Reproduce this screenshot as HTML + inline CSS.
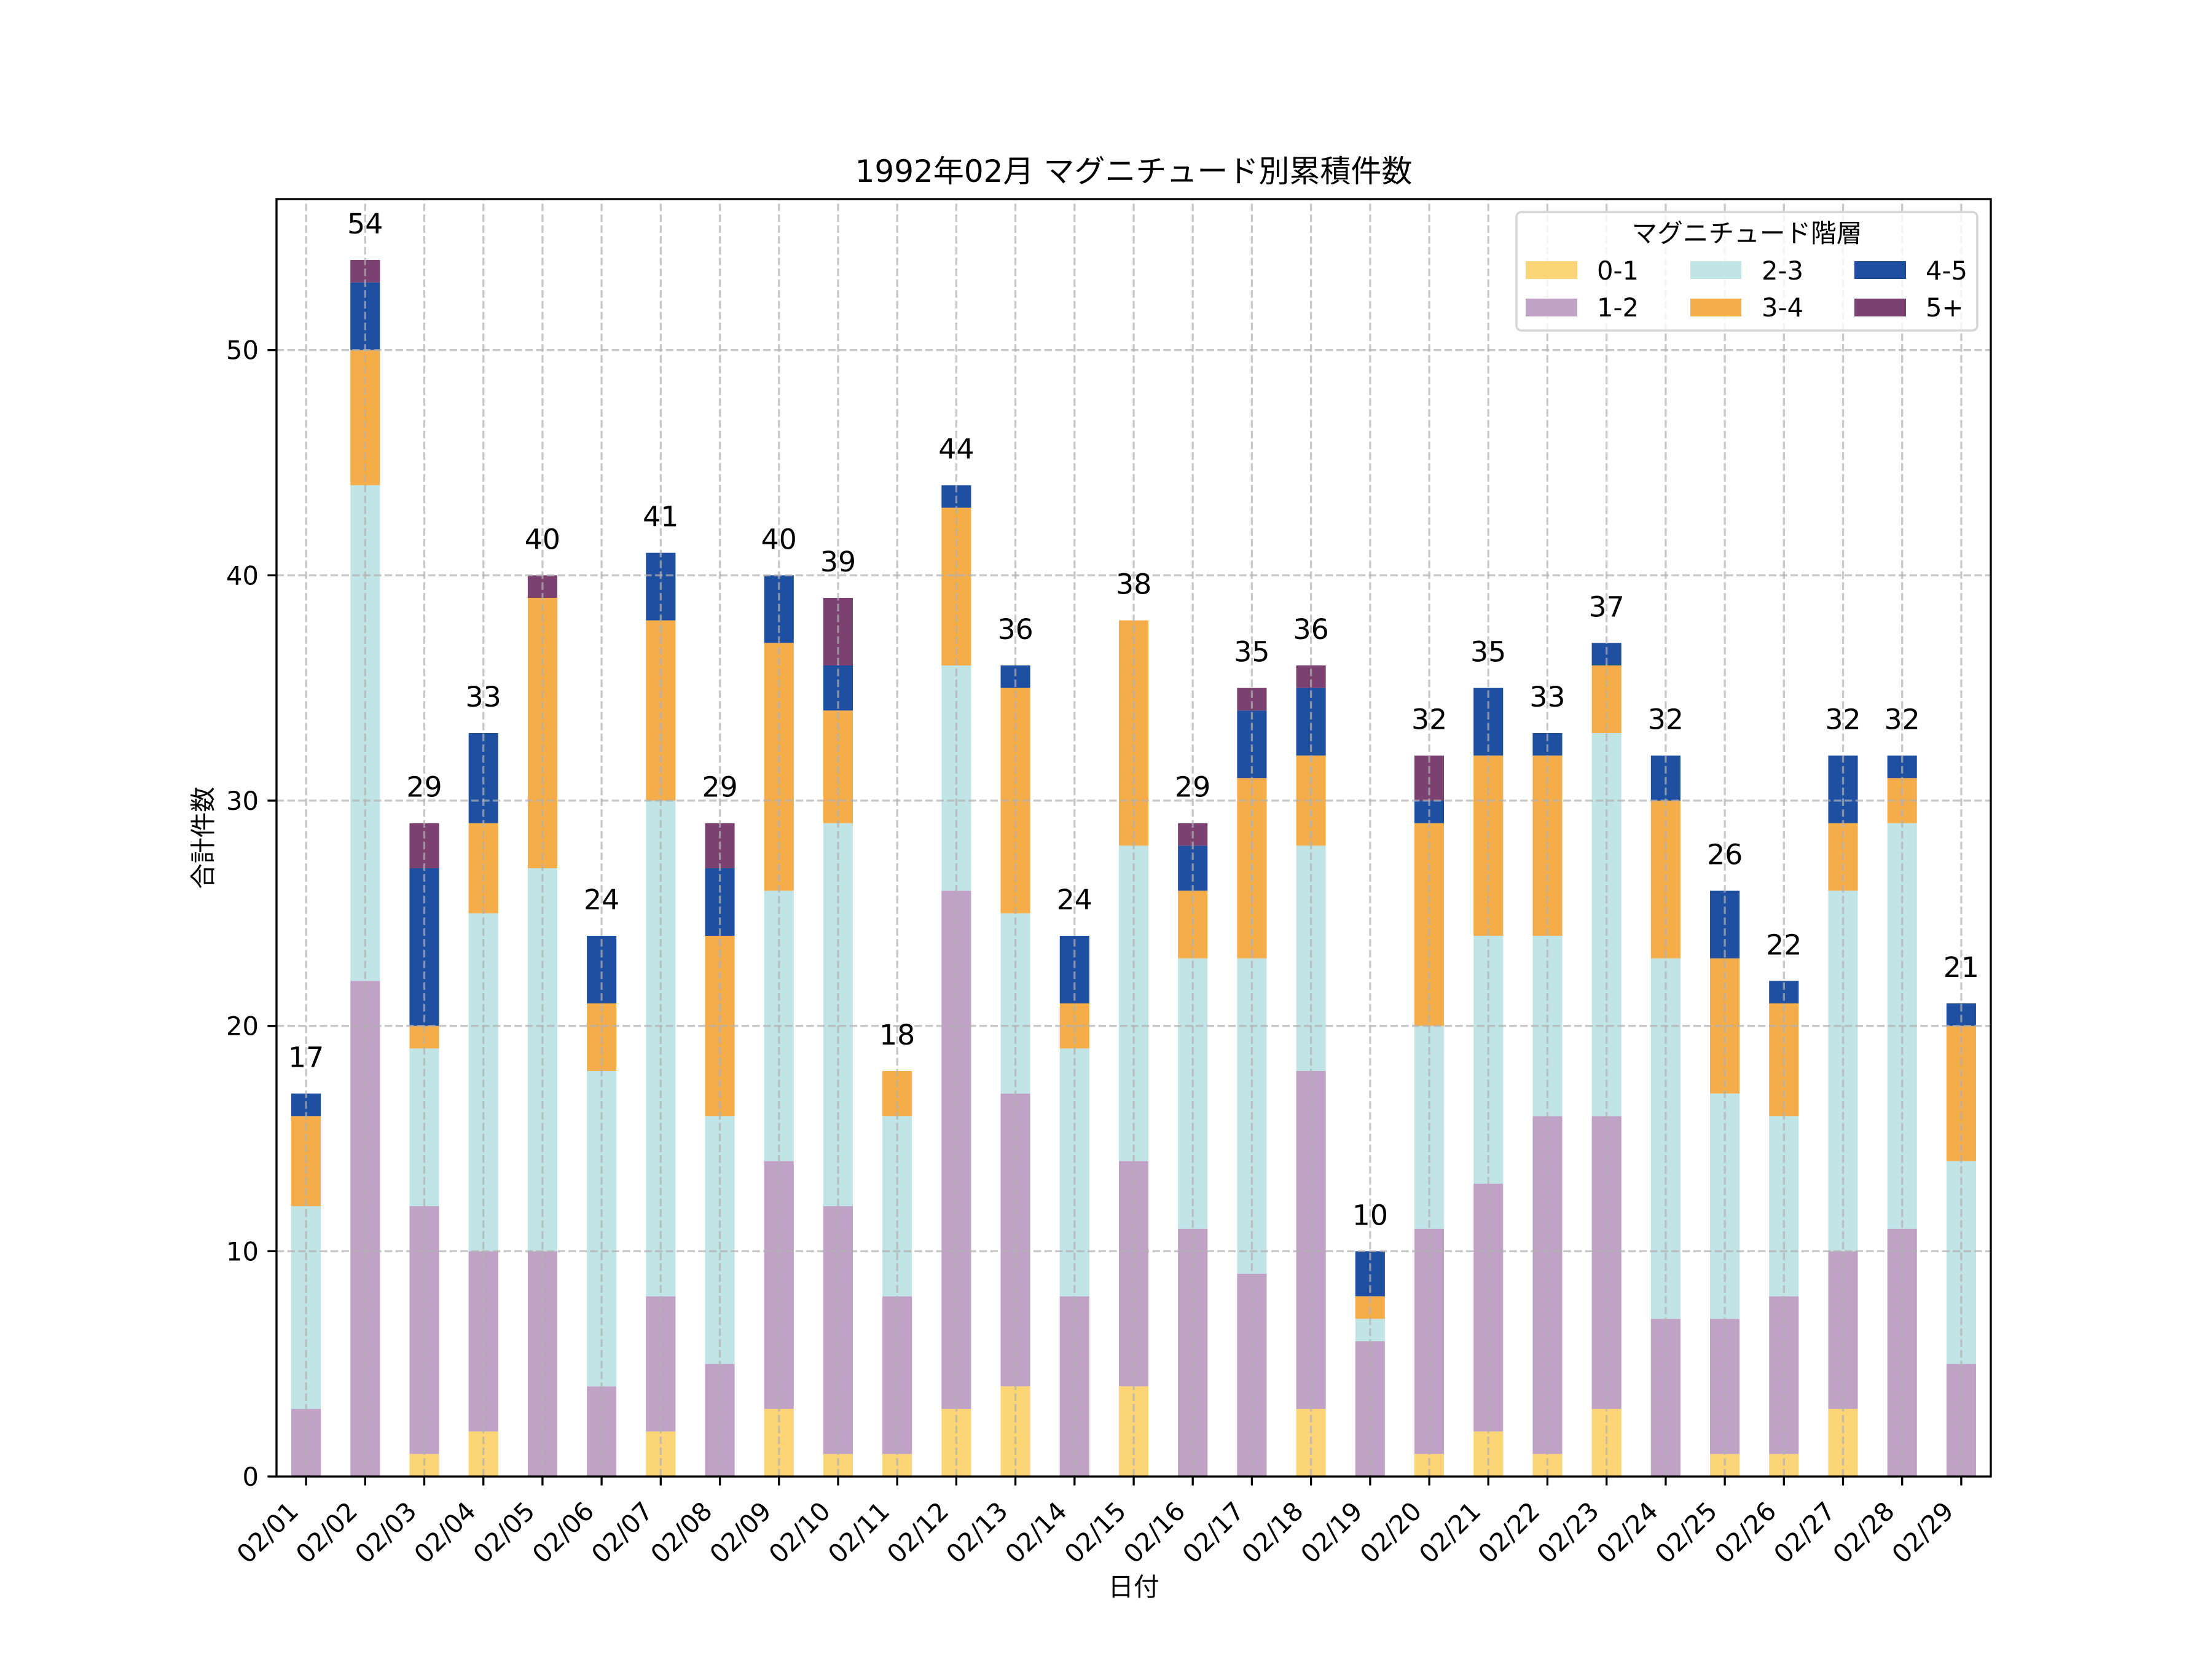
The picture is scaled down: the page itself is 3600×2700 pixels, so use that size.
<!DOCTYPE html>
<html><head><meta charset="utf-8"><style>
html,body{margin:0;padding:0;background:#fff;}
svg{display:block;}
text{font-family:"DejaVu Sans","Noto Sans CJK JP",sans-serif;fill:#000;}
</style></head><body>
<svg width="3600" height="2700" viewBox="0 0 3600 2700" xmlns="http://www.w3.org/2000/svg">
<rect x="0" y="0" width="3600" height="2700" fill="#fff"/>
<!-- bars in data coordinates -->
<g transform="translate(498.103,2403) scale(96.2069,-36.6667)">
<g fill="#FCD576">
<rect x="1.75" y="0" width="0.5" height="1"/>
<rect x="2.75" y="0" width="0.5" height="2"/>
<rect x="5.75" y="0" width="0.5" height="2"/>
<rect x="7.75" y="0" width="0.5" height="3"/>
<rect x="8.75" y="0" width="0.5" height="1"/>
<rect x="9.75" y="0" width="0.5" height="1"/>
<rect x="10.75" y="0" width="0.5" height="3"/>
<rect x="11.75" y="0" width="0.5" height="4"/>
<rect x="13.75" y="0" width="0.5" height="4"/>
<rect x="16.75" y="0" width="0.5" height="3"/>
<rect x="18.75" y="0" width="0.5" height="1"/>
<rect x="19.75" y="0" width="0.5" height="2"/>
<rect x="20.75" y="0" width="0.5" height="1"/>
<rect x="21.75" y="0" width="0.5" height="3"/>
<rect x="23.75" y="0" width="0.5" height="1"/>
<rect x="24.75" y="0" width="0.5" height="1"/>
<rect x="25.75" y="0" width="0.5" height="3"/>
</g>
<g fill="#C0A2C7">
<rect x="-0.25" y="0" width="0.5" height="3"/>
<rect x="0.75" y="0" width="0.5" height="22"/>
<rect x="1.75" y="1" width="0.5" height="11"/>
<rect x="2.75" y="2" width="0.5" height="8"/>
<rect x="3.75" y="0" width="0.5" height="10"/>
<rect x="4.75" y="0" width="0.5" height="4"/>
<rect x="5.75" y="2" width="0.5" height="6"/>
<rect x="6.75" y="0" width="0.5" height="5"/>
<rect x="7.75" y="3" width="0.5" height="11"/>
<rect x="8.75" y="1" width="0.5" height="11"/>
<rect x="9.75" y="1" width="0.5" height="7"/>
<rect x="10.75" y="3" width="0.5" height="23"/>
<rect x="11.75" y="4" width="0.5" height="13"/>
<rect x="12.75" y="0" width="0.5" height="8"/>
<rect x="13.75" y="4" width="0.5" height="10"/>
<rect x="14.75" y="0" width="0.5" height="11"/>
<rect x="15.75" y="0" width="0.5" height="9"/>
<rect x="16.75" y="3" width="0.5" height="15"/>
<rect x="17.75" y="0" width="0.5" height="6"/>
<rect x="18.75" y="1" width="0.5" height="10"/>
<rect x="19.75" y="2" width="0.5" height="11"/>
<rect x="20.75" y="1" width="0.5" height="15"/>
<rect x="21.75" y="3" width="0.5" height="13"/>
<rect x="22.75" y="0" width="0.5" height="7"/>
<rect x="23.75" y="1" width="0.5" height="6"/>
<rect x="24.75" y="1" width="0.5" height="7"/>
<rect x="25.75" y="3" width="0.5" height="7"/>
<rect x="26.75" y="0" width="0.5" height="11"/>
<rect x="27.75" y="0" width="0.5" height="5"/>
</g>
<g fill="#C1E4E7">
<rect x="-0.25" y="3" width="0.5" height="9"/>
<rect x="0.75" y="22" width="0.5" height="22"/>
<rect x="1.75" y="12" width="0.5" height="7"/>
<rect x="2.75" y="10" width="0.5" height="15"/>
<rect x="3.75" y="10" width="0.5" height="17"/>
<rect x="4.75" y="4" width="0.5" height="14"/>
<rect x="5.75" y="8" width="0.5" height="22"/>
<rect x="6.75" y="5" width="0.5" height="11"/>
<rect x="7.75" y="14" width="0.5" height="12"/>
<rect x="8.75" y="12" width="0.5" height="17"/>
<rect x="9.75" y="8" width="0.5" height="8"/>
<rect x="10.75" y="26" width="0.5" height="10"/>
<rect x="11.75" y="17" width="0.5" height="8"/>
<rect x="12.75" y="8" width="0.5" height="11"/>
<rect x="13.75" y="14" width="0.5" height="14"/>
<rect x="14.75" y="11" width="0.5" height="12"/>
<rect x="15.75" y="9" width="0.5" height="14"/>
<rect x="16.75" y="18" width="0.5" height="10"/>
<rect x="17.75" y="6" width="0.5" height="1"/>
<rect x="18.75" y="11" width="0.5" height="9"/>
<rect x="19.75" y="13" width="0.5" height="11"/>
<rect x="20.75" y="16" width="0.5" height="8"/>
<rect x="21.75" y="16" width="0.5" height="17"/>
<rect x="22.75" y="7" width="0.5" height="16"/>
<rect x="23.75" y="7" width="0.5" height="10"/>
<rect x="24.75" y="8" width="0.5" height="8"/>
<rect x="25.75" y="10" width="0.5" height="16"/>
<rect x="26.75" y="11" width="0.5" height="18"/>
<rect x="27.75" y="5" width="0.5" height="9"/>
</g>
<g fill="#F5AD4A">
<rect x="-0.25" y="12" width="0.5" height="4"/>
<rect x="0.75" y="44" width="0.5" height="6"/>
<rect x="1.75" y="19" width="0.5" height="1"/>
<rect x="2.75" y="25" width="0.5" height="4"/>
<rect x="3.75" y="27" width="0.5" height="12"/>
<rect x="4.75" y="18" width="0.5" height="3"/>
<rect x="5.75" y="30" width="0.5" height="8"/>
<rect x="6.75" y="16" width="0.5" height="8"/>
<rect x="7.75" y="26" width="0.5" height="11"/>
<rect x="8.75" y="29" width="0.5" height="5"/>
<rect x="9.75" y="16" width="0.5" height="2"/>
<rect x="10.75" y="36" width="0.5" height="7"/>
<rect x="11.75" y="25" width="0.5" height="10"/>
<rect x="12.75" y="19" width="0.5" height="2"/>
<rect x="13.75" y="28" width="0.5" height="10"/>
<rect x="14.75" y="23" width="0.5" height="3"/>
<rect x="15.75" y="23" width="0.5" height="8"/>
<rect x="16.75" y="28" width="0.5" height="4"/>
<rect x="17.75" y="7" width="0.5" height="1"/>
<rect x="18.75" y="20" width="0.5" height="9"/>
<rect x="19.75" y="24" width="0.5" height="8"/>
<rect x="20.75" y="24" width="0.5" height="8"/>
<rect x="21.75" y="33" width="0.5" height="3"/>
<rect x="22.75" y="23" width="0.5" height="7"/>
<rect x="23.75" y="17" width="0.5" height="6"/>
<rect x="24.75" y="16" width="0.5" height="5"/>
<rect x="25.75" y="26" width="0.5" height="3"/>
<rect x="26.75" y="29" width="0.5" height="2"/>
<rect x="27.75" y="14" width="0.5" height="6"/>
</g>
<g fill="#1F4FA0">
<rect x="-0.25" y="16" width="0.5" height="1"/>
<rect x="0.75" y="50" width="0.5" height="3"/>
<rect x="1.75" y="20" width="0.5" height="7"/>
<rect x="2.75" y="29" width="0.5" height="4"/>
<rect x="4.75" y="21" width="0.5" height="3"/>
<rect x="5.75" y="38" width="0.5" height="3"/>
<rect x="6.75" y="24" width="0.5" height="3"/>
<rect x="7.75" y="37" width="0.5" height="3"/>
<rect x="8.75" y="34" width="0.5" height="2"/>
<rect x="10.75" y="43" width="0.5" height="1"/>
<rect x="11.75" y="35" width="0.5" height="1"/>
<rect x="12.75" y="21" width="0.5" height="3"/>
<rect x="14.75" y="26" width="0.5" height="2"/>
<rect x="15.75" y="31" width="0.5" height="3"/>
<rect x="16.75" y="32" width="0.5" height="3"/>
<rect x="17.75" y="8" width="0.5" height="2"/>
<rect x="18.75" y="29" width="0.5" height="1"/>
<rect x="19.75" y="32" width="0.5" height="3"/>
<rect x="20.75" y="32" width="0.5" height="1"/>
<rect x="21.75" y="36" width="0.5" height="1"/>
<rect x="22.75" y="30" width="0.5" height="2"/>
<rect x="23.75" y="23" width="0.5" height="3"/>
<rect x="24.75" y="21" width="0.5" height="1"/>
<rect x="25.75" y="29" width="0.5" height="3"/>
<rect x="26.75" y="31" width="0.5" height="1"/>
<rect x="27.75" y="20" width="0.5" height="1"/>
</g>
<g fill="#7B4170">
<rect x="0.75" y="53" width="0.5" height="1"/>
<rect x="1.75" y="27" width="0.5" height="2"/>
<rect x="3.75" y="39" width="0.5" height="1"/>
<rect x="6.75" y="27" width="0.5" height="2"/>
<rect x="8.75" y="36" width="0.5" height="3"/>
<rect x="14.75" y="28" width="0.5" height="1"/>
<rect x="15.75" y="34" width="0.5" height="1"/>
<rect x="16.75" y="35" width="0.5" height="1"/>
<rect x="18.75" y="30" width="0.5" height="2"/>
</g>
</g>
<!-- grid -->
<g stroke="#b0b0b0" stroke-opacity="0.7" stroke-width="3.33" stroke-dasharray="12.3 5.3" fill="none">
<line x1="450" y1="2036.3" x2="3240" y2="2036.3"/>
<line x1="450" y1="1669.7" x2="3240" y2="1669.7"/>
<line x1="450" y1="1303" x2="3240" y2="1303"/>
<line x1="450" y1="936.3" x2="3240" y2="936.3"/>
<line x1="450" y1="569.7" x2="3240" y2="569.7"/>
<line x1="498.1" y1="2403" x2="498.1" y2="324"/>
<line x1="594.3" y1="2403" x2="594.3" y2="324"/>
<line x1="690.5" y1="2403" x2="690.5" y2="324"/>
<line x1="786.7" y1="2403" x2="786.7" y2="324"/>
<line x1="882.9" y1="2403" x2="882.9" y2="324"/>
<line x1="979.1" y1="2403" x2="979.1" y2="324"/>
<line x1="1075.3" y1="2403" x2="1075.3" y2="324"/>
<line x1="1171.6" y1="2403" x2="1171.6" y2="324"/>
<line x1="1267.8" y1="2403" x2="1267.8" y2="324"/>
<line x1="1364" y1="2403" x2="1364" y2="324"/>
<line x1="1460.2" y1="2403" x2="1460.2" y2="324"/>
<line x1="1556.4" y1="2403" x2="1556.4" y2="324"/>
<line x1="1652.6" y1="2403" x2="1652.6" y2="324"/>
<line x1="1748.8" y1="2403" x2="1748.8" y2="324"/>
<line x1="1845.1" y1="2403" x2="1845.1" y2="324"/>
<line x1="1941.2" y1="2403" x2="1941.2" y2="324"/>
<line x1="2037.4" y1="2403" x2="2037.4" y2="324"/>
<line x1="2133.6" y1="2403" x2="2133.6" y2="324"/>
<line x1="2229.9" y1="2403" x2="2229.9" y2="324"/>
<line x1="2326.1" y1="2403" x2="2326.1" y2="324"/>
<line x1="2422.2" y1="2403" x2="2422.2" y2="324"/>
<line x1="2518.4" y1="2403" x2="2518.4" y2="324"/>
<line x1="2614.7" y1="2403" x2="2614.7" y2="324"/>
<line x1="2710.9" y1="2403" x2="2710.9" y2="324"/>
<line x1="2807.1" y1="2403" x2="2807.1" y2="324"/>
<line x1="2903.3" y1="2403" x2="2903.3" y2="324"/>
<line x1="2999.5" y1="2403" x2="2999.5" y2="324"/>
<line x1="3095.7" y1="2403" x2="3095.7" y2="324"/>
<line x1="3191.9" y1="2403" x2="3191.9" y2="324"/>
</g>
<!-- annotations -->
<g font-size="45.8" text-anchor="middle">
<text x="498.1" y="1736.7">17</text>
<text x="594.3" y="380">54</text>
<text x="690.5" y="1296.7">29</text>
<text x="786.7" y="1150">33</text>
<text x="882.9" y="893.3">40</text>
<text x="979.1" y="1480">24</text>
<text x="1075.3" y="856.7">41</text>
<text x="1171.6" y="1296.7">29</text>
<text x="1267.8" y="893.3">40</text>
<text x="1364" y="930">39</text>
<text x="1460.2" y="1700">18</text>
<text x="1556.4" y="746.7">44</text>
<text x="1652.6" y="1040">36</text>
<text x="1748.8" y="1480">24</text>
<text x="1845.1" y="966.7">38</text>
<text x="1941.2" y="1296.7">29</text>
<text x="2037.4" y="1076.7">35</text>
<text x="2133.6" y="1040">36</text>
<text x="2229.9" y="1993.3">10</text>
<text x="2326.1" y="1186.7">32</text>
<text x="2422.2" y="1076.7">35</text>
<text x="2518.4" y="1150">33</text>
<text x="2614.7" y="1003.3">37</text>
<text x="2710.9" y="1186.7">32</text>
<text x="2807.1" y="1406.7">26</text>
<text x="2903.3" y="1553.3">22</text>
<text x="2999.5" y="1186.7">32</text>
<text x="3095.7" y="1186.7">32</text>
<text x="3191.9" y="1590">21</text>
</g>
<!-- spines -->
<rect x="450" y="324" width="2790" height="2079" fill="none" stroke="#000" stroke-width="3.33"/>
<!-- ticks -->
<g stroke="#000" stroke-width="3.33">
<line x1="435.4" y1="2403" x2="450" y2="2403"/>
<line x1="435.4" y1="2036.3" x2="450" y2="2036.3"/>
<line x1="435.4" y1="1669.7" x2="450" y2="1669.7"/>
<line x1="435.4" y1="1303" x2="450" y2="1303"/>
<line x1="435.4" y1="936.3" x2="450" y2="936.3"/>
<line x1="435.4" y1="569.7" x2="450" y2="569.7"/>
<line x1="498.1" y1="2403" x2="498.1" y2="2417.6"/>
<line x1="594.3" y1="2403" x2="594.3" y2="2417.6"/>
<line x1="690.5" y1="2403" x2="690.5" y2="2417.6"/>
<line x1="786.7" y1="2403" x2="786.7" y2="2417.6"/>
<line x1="882.9" y1="2403" x2="882.9" y2="2417.6"/>
<line x1="979.1" y1="2403" x2="979.1" y2="2417.6"/>
<line x1="1075.3" y1="2403" x2="1075.3" y2="2417.6"/>
<line x1="1171.6" y1="2403" x2="1171.6" y2="2417.6"/>
<line x1="1267.8" y1="2403" x2="1267.8" y2="2417.6"/>
<line x1="1364" y1="2403" x2="1364" y2="2417.6"/>
<line x1="1460.2" y1="2403" x2="1460.2" y2="2417.6"/>
<line x1="1556.4" y1="2403" x2="1556.4" y2="2417.6"/>
<line x1="1652.6" y1="2403" x2="1652.6" y2="2417.6"/>
<line x1="1748.8" y1="2403" x2="1748.8" y2="2417.6"/>
<line x1="1845.1" y1="2403" x2="1845.1" y2="2417.6"/>
<line x1="1941.2" y1="2403" x2="1941.2" y2="2417.6"/>
<line x1="2037.4" y1="2403" x2="2037.4" y2="2417.6"/>
<line x1="2133.6" y1="2403" x2="2133.6" y2="2417.6"/>
<line x1="2229.9" y1="2403" x2="2229.9" y2="2417.6"/>
<line x1="2326.1" y1="2403" x2="2326.1" y2="2417.6"/>
<line x1="2422.2" y1="2403" x2="2422.2" y2="2417.6"/>
<line x1="2518.4" y1="2403" x2="2518.4" y2="2417.6"/>
<line x1="2614.7" y1="2403" x2="2614.7" y2="2417.6"/>
<line x1="2710.9" y1="2403" x2="2710.9" y2="2417.6"/>
<line x1="2807.1" y1="2403" x2="2807.1" y2="2417.6"/>
<line x1="2903.3" y1="2403" x2="2903.3" y2="2417.6"/>
<line x1="2999.5" y1="2403" x2="2999.5" y2="2417.6"/>
<line x1="3095.7" y1="2403" x2="3095.7" y2="2417.6"/>
<line x1="3191.9" y1="2403" x2="3191.9" y2="2417.6"/>
</g>
<!-- y tick labels -->
<g font-size="41.67" text-anchor="end">
<text x="421" y="2418">0</text>
<text x="421" y="2051.3">10</text>
<text x="421" y="1684.7">20</text>
<text x="421" y="1318">30</text>
<text x="421" y="951.3">40</text>
<text x="421" y="584.7">50</text>
</g>
<!-- x tick labels -->
<g font-size="41.67" text-anchor="end">
<text transform="translate(488.1,2462) rotate(-45)">02/01</text>
<text transform="translate(584.3,2462) rotate(-45)">02/02</text>
<text transform="translate(680.5,2462) rotate(-45)">02/03</text>
<text transform="translate(776.7,2462) rotate(-45)">02/04</text>
<text transform="translate(872.9,2462) rotate(-45)">02/05</text>
<text transform="translate(969.1,2462) rotate(-45)">02/06</text>
<text transform="translate(1065.3,2462) rotate(-45)">02/07</text>
<text transform="translate(1161.6,2462) rotate(-45)">02/08</text>
<text transform="translate(1257.8,2462) rotate(-45)">02/09</text>
<text transform="translate(1354,2462) rotate(-45)">02/10</text>
<text transform="translate(1450.2,2462) rotate(-45)">02/11</text>
<text transform="translate(1546.4,2462) rotate(-45)">02/12</text>
<text transform="translate(1642.6,2462) rotate(-45)">02/13</text>
<text transform="translate(1738.8,2462) rotate(-45)">02/14</text>
<text transform="translate(1835.1,2462) rotate(-45)">02/15</text>
<text transform="translate(1931.2,2462) rotate(-45)">02/16</text>
<text transform="translate(2027.4,2462) rotate(-45)">02/17</text>
<text transform="translate(2123.6,2462) rotate(-45)">02/18</text>
<text transform="translate(2219.9,2462) rotate(-45)">02/19</text>
<text transform="translate(2316.1,2462) rotate(-45)">02/20</text>
<text transform="translate(2412.2,2462) rotate(-45)">02/21</text>
<text transform="translate(2508.4,2462) rotate(-45)">02/22</text>
<text transform="translate(2604.7,2462) rotate(-45)">02/23</text>
<text transform="translate(2700.9,2462) rotate(-45)">02/24</text>
<text transform="translate(2797.1,2462) rotate(-45)">02/25</text>
<text transform="translate(2893.3,2462) rotate(-45)">02/26</text>
<text transform="translate(2989.5,2462) rotate(-45)">02/27</text>
<text transform="translate(3085.7,2462) rotate(-45)">02/28</text>
<text transform="translate(3181.9,2462) rotate(-45)">02/29</text>
</g>
<!-- axis labels & title -->
<text x="1845" y="2597" font-size="41.67" text-anchor="middle">日付</text>
<text transform="translate(345,1363.5) rotate(-90)" font-size="41.67" text-anchor="middle">合計件数</text>
<text x="1845" y="296" font-size="50" text-anchor="middle">1992年02月 マグニチュード別累積件数</text>
<!-- legend -->
<rect x="2468" y="345" width="750" height="193" rx="8" ry="8" fill="#fff" fill-opacity="0.8" stroke="#cccccc" stroke-opacity="0.8" stroke-width="3.5"/>
<text x="2843" y="394" font-size="41.67" text-anchor="middle">マグニチュード階層</text>
<rect x="2483" y="425" width="84" height="29" fill="#FCD576"/>
<rect x="2483" y="486" width="84" height="29" fill="#C0A2C7"/>
<rect x="2751" y="425" width="83" height="29" fill="#C1E4E7"/>
<rect x="2751" y="486" width="83" height="29" fill="#F5AD4A"/>
<rect x="3018" y="425" width="84" height="29" fill="#1F4FA0"/>
<rect x="3018" y="486" width="84" height="29" fill="#7B4170"/>
<g font-size="41.67">
<text x="2599" y="455">0-1</text>
<text x="2599" y="515">1-2</text>
<text x="2867" y="455">2-3</text>
<text x="2867" y="515">3-4</text>
<text x="3134" y="455">4-5</text>
<text x="3134" y="515">5+</text>
</g>
</svg>
</body></html>
